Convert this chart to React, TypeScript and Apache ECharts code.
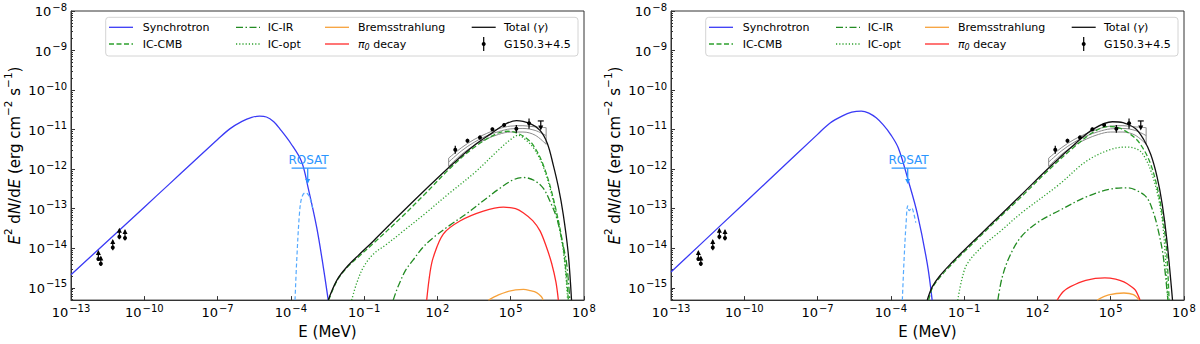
import React, { useEffect, useRef } from "react";
import * as echarts from "echarts";

const FONT = "DejaVu Sans, Verdana, sans-serif";

// Axis ranges in log10 units (E in MeV, E^2 dN/dE in erg cm^-2 s^-1)
const X_MIN = -13;
const X_MAX = 8;
const Y_MIN = -15.31;
const Y_MAX = -8;
const X_LABEL_EXP = [-13, -10, -7, -4, -1, 2, 5, 8];
const Y_LABEL_EXP = [-15, -14, -13, -12, -11, -10, -9, -8];
const Y_MINOR: number[] = [];
for (let n = -16; n <= -9; n++) {
  for (let k = 2; k <= 9; k++) {
    const v = n + Math.log10(k);
    if (v > Y_MIN && v < Y_MAX) Y_MINOR.push(v);
  }
}

// ---- Panel A (left) : [log10 E, log10 flux]
const synchrotronA = [
  [-13, -14.67], [-12, -14.1], [-11, -13.53], [-10, -12.96], [-9, -12.39], [-8, -11.82],
  [-7, -11.25], [-6.5, -10.98], [-6, -10.79], [-5.6, -10.69], [-5.28, -10.66], [-5, -10.68],
  [-4.7, -10.8], [-4.45, -10.98], [-4.0, -11.35], [-3.56, -11.81], [-3.29, -12.48],
  [-2.94, -13.48], [-2.67, -14.48], [-2.47, -15.31],
];
const thermalA = [
  [-3.83, -15.31], [-3.76, -14.31], [-3.65, -13.14], [-3.56, -12.73], [-3.42, -12.6],
  [-3.32, -12.62], [-3.22, -12.73], [-3.11, -12.98],
];
const totalA = [
  [-2.47, -15.31], [-2.12, -14.81], [-1.72, -14.48], [-1.17, -14.14], [-0.63, -13.82],
  [0.47, -13.14], [1.5, -12.52], [2.51, -11.93], [3.5, -11.4], [4.2, -11.1], [4.75, -10.87],
  [5.24, -10.77], [5.8, -10.85], [6.2, -11.02], [6.5, -11.35], [6.74, -11.89], [6.95, -12.45],
  [7.15, -13.14], [7.35, -14.1], [7.49, -15.31],
];
const icCmbA = [
  [-2.45, -15.31], [-2.12, -14.83], [-1.72, -14.5], [-1.17, -14.18], [-0.63, -13.88],
  [0.47, -13.25], [1.5, -12.62], [2.51, -11.98], [3.5, -11.45], [4.43, -11.1], [4.9, -11.04],
  [5.24, -11.08], [5.6, -11.2], [5.92, -11.39], [6.33, -11.89], [6.74, -12.73], [7.15, -13.98],
  [7.36, -15.31],
];
const icOptA = [
  [-1.51, -15.31], [-1.31, -14.89], [-1.03, -14.48], [-0.63, -14.15], [-0.08, -13.9],
  [0.47, -13.63], [1.5, -13.12], [2.5, -12.6], [3.5, -12.1], [4.56, -11.48], [5.0, -11.25],
  [5.31, -11.14], [5.6, -11.25], [5.92, -11.45], [6.33, -11.93], [6.74, -12.8], [7.15, -14.05],
  [7.33, -15.31],
];
const icIrA = [
  [0.19, -15.31], [0.33, -15.06], [0.47, -14.85], [0.7, -14.55], [1.0, -14.3], [1.4, -13.98],
  [1.83, -13.73], [2.5, -13.42], [3.2, -13.12], [4.0, -12.74], [4.56, -12.48], [5.1, -12.27],
  [5.52, -12.21], [5.95, -12.28], [6.33, -12.48], [6.6, -12.8], [6.88, -13.23], [7.1, -13.8],
  [7.29, -14.39], [7.42, -15.31],
];
const pionA = [
  [1.56, -15.31], [1.7, -14.6], [1.83, -14.23], [2.24, -13.64], [2.92, -13.31], [3.88, -13.06],
  [4.7, -12.96], [5.2, -13.0], [5.51, -13.1], [5.9, -13.3], [6.2, -13.56], [6.48, -14.0],
  [6.68, -14.39], [6.85, -14.85], [6.95, -15.31],
];
const bremsA = [
  [4.09, -15.31], [4.5, -15.18], [4.84, -15.1], [5.2, -15.05], [5.52, -15.04], [5.8, -15.07],
  [6.06, -15.12], [6.25, -15.22], [6.33, -15.31],
];

// ---- Panel B (right)
const synchrotronB = [
  [-13, -14.6], [-11, -13.44], [-9, -12.28], [-7, -11.12], [-6.5, -10.84], [-6, -10.66],
  [-5.6, -10.56], [-5.21, -10.53], [-4.9, -10.58], [-4.6, -10.7], [-4.31, -10.88], [-4.0, -11.13],
  [-3.69, -11.47], [-3.3, -12.26], [-2.91, -13.14], [-2.51, -14.39], [-2.31, -15.31],
];
const thermalB = [
  [-3.53, -15.31], [-3.46, -14.3], [-3.38, -13.4], [-3.31, -12.93], [-3.25, -13.05],
  [-3.15, -12.98], [-3.05, -13.15], [-2.98, -13.35],
];
const totalB = [
  [-2.51, -15.31], [-2.3, -14.97], [-2.0, -14.7], [-1.5, -14.36], [-1.0, -14.05],
  [-0.25, -13.6], [0.5, -13.15], [1.32, -12.66], [2.46, -11.97], [3.5, -11.38], [4.3, -10.98],
  [5.07, -10.8], [5.5, -10.82], [6.01, -10.97], [6.35, -11.25], [6.64, -11.63], [6.9, -12.2],
  [7.11, -12.89], [7.3, -13.8], [7.53, -15.31],
];
const icCmbB = [
  [-2.45, -15.31], [-2.3, -15.0], [-2.0, -14.74], [-1.5, -14.4], [-1.0, -14.09],
  [-0.25, -13.64], [0.5, -13.19], [1.32, -12.71], [2.46, -12.02], [3.5, -11.44], [4.3, -11.06],
  [4.92, -10.92], [5.4, -10.97], [6.01, -11.22], [6.35, -11.5], [6.64, -11.88], [6.9, -12.45],
  [7.11, -13.14], [7.28, -14.0], [7.39, -15.31],
];
const icOptB = [
  [-1.26, -15.31], [-1.1, -14.8], [-0.87, -14.39], [-0.25, -13.95], [0.5, -13.56],
  [1.32, -13.12], [2.88, -12.39], [4.0, -11.8], [5.0, -11.5], [5.7, -11.44], [6.1, -11.5],
  [6.33, -11.63], [6.65, -12.05], [6.95, -12.72], [7.15, -13.5], [7.34, -15.31],
];
const icIrB = [
  [0.38, -15.31], [0.55, -14.75], [0.85, -14.22], [1.32, -13.72], [2.0, -13.35], [2.88, -13.05],
  [4.0, -12.7], [5.0, -12.5], [5.7, -12.47], [6.1, -12.55], [6.48, -12.72], [6.75, -13.1],
  [6.95, -13.56], [7.15, -14.2], [7.34, -15.31],
];
const pionB = [
  [2.81, -15.31], [3.05, -15.1], [3.35, -14.97], [3.98, -14.81], [4.76, -14.75], [5.2, -14.78],
  [5.54, -14.85], [5.85, -14.97], [6.01, -15.06], [6.2, -15.31],
];
const bremsB = [
  [4.45, -15.31], [4.92, -15.18], [5.54, -15.13], [5.93, -15.17], [6.17, -15.31],
];

// ---- Observations (shared): [log E, log F, log lo, log hi, kind] kind 0 = point, 1 = lower limit, 2 = upper limit
const radioPoints = [
  [-11.88, -14.27, -14.32, -14.08, 1],
  [-11.78, -14.39, -14.45, -14.22, 1],
  [-11.29, -13.98, -14.05, -13.8, 1],
  [-11.02, -13.71, -13.77, -13.52, 1],
  [-10.79, -13.74, -13.8, -13.55, 1],
];
const gammaPoints = [
  [2.73, -11.51, -11.61, -11.41, 0],
  [3.23, -11.28, -11.33, -11.23, 0],
  [3.74, -11.2, -11.25, -11.15, 0],
  [4.25, -10.99, -11.03, -10.95, 0],
  [4.73, -10.88, -10.92, -10.84, 0],
  [5.23, -10.98, -11.08, -10.88, 0],
  [5.75, -10.84, -10.98, -10.72, 0],
  [6.23, -10.97, -10.97, -10.78, 2],
];
// ROSAT upper limit: [E lo, E hi, E centre, flux, arrow tip]
const rosatLimit = [[-3.97, -2.54, -3.31, -11.975, -12.35]];
// Fit butterfly (grey)
const bowUpper = [
  [2.46, -11.72], [3.0, -11.45], [3.5, -11.25], [4.0, -11.1], [4.5, -10.98], [5.0, -10.91],
  [5.5, -10.9], [6.0, -10.93], [6.45, -10.95],
];
const bowMiddle = [
  [2.46, -11.82], [3.0, -11.53], [3.5, -11.32], [4.0, -11.16], [4.5, -11.05], [5.0, -10.98],
  [5.5, -10.97], [6.0, -11.02], [6.45, -11.15],
];
const bowLower = [
  [2.46, -11.93], [3.0, -11.62], [3.5, -11.4], [4.0, -11.24], [4.5, -11.12], [5.0, -11.06],
  [5.5, -11.06], [6.0, -11.14], [6.45, -11.37],
];

const C_SYN = "#3a3af5";
const C_THERM = "#55aaff";
const C_GREEN = "#2ca02c";
const C_GREEN_D = "#228b22";
const C_ORANGE = "#f7a23b";
const C_RED = "#ff2a2a";
const C_BLACK = "#111111";
const C_ROSAT = "#2a95ff";
const C_GREY = "#8a8a8a";

const DASH_CMB = [5, 2.5];
const DASH_IR = [7, 2.5, 1.5, 2.5];
const DASH_OPT = [1.2, 2];
const DASH_THERM = [4, 2.5];

const PANEL_LEFT = [71, 671];
const PANEL_W = 513;
const PANEL_TOP = 11;
const PANEL_H = 292;

function supExp(n: number) {
  return n < 0 ? "\u2212" + Math.abs(n) : String(n);
}

function renderObs(params: any, api: any) {
  const x = api.value(0);
  const y = api.value(1);
  const lo = api.value(2);
  const hi = api.value(3);
  const kind = api.value(4);
  const p = api.coord([x, y]);
  const pl = api.coord([x, lo]);
  const ph = api.coord([x, hi]);
  const st = { stroke: "#000", lineWidth: 1.2 };
  const ch: any[] = [
    { type: "line", shape: { x1: p[0], y1: pl[1], x2: p[0], y2: ph[1] }, style: st },
  ];
  if (kind !== 2) {
    ch.push({ type: "circle", shape: { cx: p[0], cy: p[1], r: 2 }, style: { fill: "#000" } });
  }
  if (kind === 1) {
    ch.push({
      type: "polygon",
      shape: { points: [[p[0], ph[1] - 1.5], [p[0] - 2.5, ph[1] + 3.5], [p[0] + 2.5, ph[1] + 3.5]] },
      style: { fill: "#000" },
    });
  }
  if (kind === 2) {
    ch.push({ type: "line", shape: { x1: p[0] - 3, y1: ph[1], x2: p[0] + 3, y2: ph[1] }, style: st });
    ch.push({
      type: "polygon",
      shape: { points: [[p[0], pl[1] + 2], [p[0] - 2.5, pl[1] - 3], [p[0] + 2.5, pl[1] - 3]] },
      style: { fill: "#000" },
    });
  }
  return { type: "group", children: ch };
}

function renderRosat(params: any, api: any) {
  const e0 = api.value(0);
  const e1 = api.value(1);
  const ec = api.value(2);
  const f = api.value(3);
  const tip = api.value(4);
  const a = api.coord([e0, f]);
  const b = api.coord([e1, f]);
  const c = api.coord([ec, f]);
  const t = api.coord([ec, tip]);
  const st = { stroke: C_ROSAT, lineWidth: 1.3 };
  return {
    type: "group",
    children: [
      { type: "line", shape: { x1: a[0], y1: a[1], x2: b[0], y2: b[1] }, style: st },
      { type: "line", shape: { x1: c[0], y1: c[1], x2: t[0], y2: t[1] - 3 }, style: st },
      {
        type: "polygon",
        shape: { points: [[t[0], t[1] + 1], [t[0] - 2.5, t[1] - 4], [t[0] + 2.5, t[1] - 4]] },
        style: { fill: C_ROSAT },
      },
      {
        type: "text",
        x: (a[0] + b[0]) / 2 - 0.5,
        y: a[1] - 2,
        style: {
          text: "ROSAT",
          fill: C_ROSAT,
          fontSize: 12,
          fontFamily: FONT,
          align: "center",
          verticalAlign: "bottom",
        },
      },
    ],
  };
}

type PanelData = {
  syn: number[][];
  therm: number[][];
  total: number[][];
  cmb: number[][];
  opt: number[][];
  ir: number[][];
  pion: number[][];
  brems: number[][];
};

function line(name: string, data: number[][], idx: number, color: string, type: any, z = 3, width = 1.3) {
  return {
    type: "line",
    name,
    data,
    xAxisIndex: idx,
    yAxisIndex: idx * 2,
    showSymbol: false,
    symbol: "none",
    smooth: 0.35,
    lineStyle: { color, width, type },
    itemStyle: { color },
    z,
    silent: true,
  };
}

function panelSeries(idx: number, d: PanelData) {
  const u = bowUpper;
  const l = bowLower;
  return [
    line("_bowU" + idx, u, idx, C_GREY, "solid", 2, 1),
    line("_bowM" + idx, bowMiddle, idx, C_GREY, "solid", 2, 1),
    line("_bowL" + idx, l, idx, C_GREY, "solid", 2, 1),
    {
      type: "line",
      name: "_bowEnds" + idx,
      data: [u[0], l[0], ["-", "-"], u[u.length - 1], l[l.length - 1]],
      xAxisIndex: idx,
      yAxisIndex: idx * 2,
      showSymbol: false,
      symbol: "none",
      connectNulls: false,
      lineStyle: { color: C_GREY, width: 1 },
      z: 2,
      silent: true,
    },
    line("Synchrotron", d.syn, idx, C_SYN, "solid"),
    line("_thermal" + idx, d.therm, idx, C_THERM, DASH_THERM, 3, 1.2),
    line("IC-CMB", d.cmb, idx, C_GREEN, DASH_CMB),
    line("IC-IR", d.ir, idx, C_GREEN_D, DASH_IR),
    line("IC-opt", d.opt, idx, C_GREEN, DASH_OPT),
    line("Bremsstrahlung", d.brems, idx, C_ORANGE, "solid"),
    line("π0 decay", d.pion, idx, C_RED, "solid"),
    line("Total (γ)", d.total, idx, C_BLACK, "solid", 4),
    {
      type: "custom",
      name: "G150.3+4.5",
      xAxisIndex: idx,
      yAxisIndex: idx * 2,
      renderItem: renderObs,
      data: gammaPoints,
      encode: { x: 0, y: 1 },
      itemStyle: { color: "#000" },
      z: 6,
      silent: true,
    },
    {
      type: "custom",
      name: "_radio" + idx,
      xAxisIndex: idx,
      yAxisIndex: idx * 2,
      renderItem: renderObs,
      data: radioPoints,
      encode: { x: 0, y: 1 },
      z: 6,
      silent: true,
    },
    {
      type: "custom",
      name: "_rosat" + idx,
      xAxisIndex: idx,
      yAxisIndex: idx * 2,
      renderItem: renderRosat,
      data: rosatLimit,
      encode: { x: [0, 1], y: 3 },
      z: 6,
      silent: true,
    },
  ];
}

// Legend layout (text labels and their line styles)
const LEGEND_ITEMS: { name: string; text: string; col: number; row: number; color: string; dash: any }[] = [
  { name: "Synchrotron", text: "Synchrotron", col: 0, row: 0, color: C_SYN, dash: null },
  { name: "IC-CMB", text: "IC-CMB", col: 0, row: 1, color: C_GREEN, dash: DASH_CMB },
  { name: "IC-IR", text: "IC-IR", col: 1, row: 0, color: C_GREEN_D, dash: DASH_IR },
  { name: "IC-opt", text: "IC-opt", col: 1, row: 1, color: C_GREEN, dash: DASH_OPT },
  { name: "Bremsstrahlung", text: "Bremsstrahlung", col: 2, row: 0, color: C_ORANGE, dash: null },
  { name: "π0 decay", text: "{i|π}{sub|0}{r| decay}", col: 2, row: 1, color: C_RED, dash: null },
  { name: "Total (γ)", text: "{r|Total (}{i|γ}{r|)}", col: 3, row: 0, color: C_BLACK, dash: null },
  { name: "G150.3+4.5", text: "G150.3+4.5", col: 3, row: 1, color: "#000", dash: "obs" },
];
const LEGEND_ICON_X = [38, 165, 254, 400.7];
const LEGEND_TEXT_X = [71.7, 196.7, 287, 433];
const LEGEND_ROW_Y = [27.3, 44];

function legendGraphics(pl: number) {
  const els: any[] = [
    {
      type: "rect",
      shape: { x: pl + 34.7, y: 17.3, width: 472.3, height: 38.7, r: 3 },
      style: { fill: "rgba(255,255,255,0.85)", stroke: "#d4d4d4", lineWidth: 1 },
      z: 10,
      silent: true,
    },
  ];
  LEGEND_ITEMS.forEach((it) => {
    const x0 = pl + LEGEND_ICON_X[it.col];
    const y = LEGEND_ROW_Y[it.row];
    if (it.dash === "obs") {
      els.push({
        type: "line",
        shape: { x1: x0 + 12, y1: y - 7, x2: x0 + 12, y2: y + 7 },
        style: { stroke: "#000", lineWidth: 1.2 },
        z: 11,
        silent: true,
      });
      els.push({
        type: "circle",
        shape: { cx: x0 + 12, cy: y, r: 2 },
        style: { fill: "#000" },
        z: 11,
        silent: true,
      });
    } else {
      els.push({
        type: "line",
        shape: { x1: x0, y1: y, x2: x0 + 24, y2: y },
        style: { stroke: it.color, lineWidth: 1.3, lineDash: it.dash || undefined },
        z: 11,
        silent: true,
      });
    }
    els.push({
      type: "text",
      x: pl + LEGEND_TEXT_X[it.col],
      y: y,
      z: 11,
      silent: true,
      style: {
        text: it.text,
        fill: "#000",
        fontSize: 11,
        fontFamily: FONT,
        verticalAlign: "middle",
        align: "left",
        rich: {
          r: { fontSize: 11, fontFamily: FONT, fill: "#000", color: "#000", lineHeight: 14, verticalAlign: "middle" },
          i: { fontSize: 11, fontFamily: FONT, fontStyle: "italic", fill: "#000", color: "#000", lineHeight: 14, verticalAlign: "middle" },
          sub: { fontSize: 8, fontFamily: FONT, fontStyle: "italic", fill: "#000", color: "#000", lineHeight: 8, verticalAlign: "bottom", padding: [0, 0, 0, 0] },
        },
      },
    });
  });
  return els;
}

function buildOption() {
  const grids = PANEL_LEFT.map((l) => ({
    left: l,
    top: PANEL_TOP,
    width: PANEL_W,
    height: PANEL_H,
    show: true,
    borderColor: "#333",
    borderWidth: 1,
    backgroundColor: "transparent",
    containLabel: false,
  }));

  const tickRich = {
    b: { fontSize: 13, fontFamily: FONT, color: "#000", lineHeight: 16, verticalAlign: "bottom" },
    s: { fontSize: 10, fontFamily: FONT, color: "#000", lineHeight: 10, verticalAlign: "top", padding: [0, 0, 0, 1] },
  };

  const xAxes = PANEL_LEFT.map((_, i) => ({
    type: "value",
    gridIndex: i,
    min: X_MIN,
    max: X_MAX,
    name: "E (MeV)",
    nameLocation: "middle",
    nameGap: 21,
    nameTextStyle: { fontSize: 15, fontFamily: FONT, color: "#000" },
    axisLine: { show: true, onZero: false, lineStyle: { color: "#333", width: 1 } },
    axisTick: { show: true, inside: true, length: 4, customValues: X_LABEL_EXP, lineStyle: { color: "#333" } },
    axisLabel: {
      show: true,
      customValues: X_LABEL_EXP,
      margin: 3,
      formatter: (v: number) => `{b|10}{s|${supExp(Math.round(v))}}`,
      rich: tickRich,
    },
    splitLine: { show: false },
  }));

  const yAxes: any[] = [];
  PANEL_LEFT.forEach((_, i) => {
    yAxes.push({
      type: "value",
      gridIndex: i,
      min: Y_MIN,
      max: Y_MAX,
      position: "left",
      name: "{i|E}{sup|2}{r| d}{i|N}{r|/d}{i|E}{r| (erg cm}{sup|\u22122}{r| s}{sup|\u22121}{r|)}",
      nameLocation: "middle",
      nameGap: 49,
      nameTextStyle: {
        fontSize: 15,
        fontFamily: FONT,
        color: "#000",
        rich: {
          r: { fontSize: 15, fontFamily: FONT, color: "#000", lineHeight: 20, verticalAlign: "bottom" },
          i: { fontSize: 15, fontFamily: FONT, fontStyle: "italic", color: "#000", lineHeight: 20, verticalAlign: "bottom" },
          sup: { fontSize: 10.5, fontFamily: FONT, color: "#000", lineHeight: 10, verticalAlign: "top" },
        },
      },
      axisLine: { show: true, onZero: false, lineStyle: { color: "#333", width: 1 } },
      axisTick: { show: true, inside: true, length: 4, customValues: Y_LABEL_EXP, lineStyle: { color: "#333" } },
      axisLabel: {
        show: true,
        customValues: Y_LABEL_EXP,
        margin: 4,
        formatter: (v: number) => `{b|10}{s|${supExp(Math.round(v))}}`,
        rich: tickRich,
        padding: [0, 0, 2, 0],
      },
      splitLine: { show: false },
    });
    yAxes.push({
      type: "value",
      gridIndex: i,
      min: Y_MIN,
      max: Y_MAX,
      position: "left",
      offset: 0,
      axisLine: { show: false, onZero: false },
      axisTick: { show: true, inside: true, length: 2, customValues: Y_MINOR, lineStyle: { color: "#333" } },
      axisLabel: { show: false },
      splitLine: { show: false },
    });
  });

  const panelA: PanelData = {
    syn: synchrotronA, therm: thermalA, total: totalA, cmb: icCmbA, opt: icOptA, ir: icIrA, pion: pionA, brems: bremsA,
  };
  const panelB: PanelData = {
    syn: synchrotronB, therm: thermalB, total: totalB, cmb: icCmbB, opt: icOptB, ir: icIrB, pion: pionB, brems: bremsB,
  };
  const series = [...panelSeries(0, panelA), ...panelSeries(1, panelB)];

  const graphic = [...legendGraphics(PANEL_LEFT[0]), ...legendGraphics(PANEL_LEFT[1])];

  return {
    animation: false,
    backgroundColor: "#fff",
    grid: grids,
    xAxis: xAxes,
    yAxis: yAxes,
    graphic,
    series,
  };
}

export default function App() {
  const ref = useRef<HTMLDivElement>(null);
  useEffect(() => {
    if (!ref.current) return;
    const chart = echarts.init(ref.current, undefined, { renderer: "svg" });
    chart.setOption(buildOption() as any);
    return () => chart.dispose();
  }, []);
  return (
    <div
      ref={ref}
      style={{ position: "fixed", left: 0, top: 0, width: 1200, height: 344, background: "#fff" }}
    />
  );
}
